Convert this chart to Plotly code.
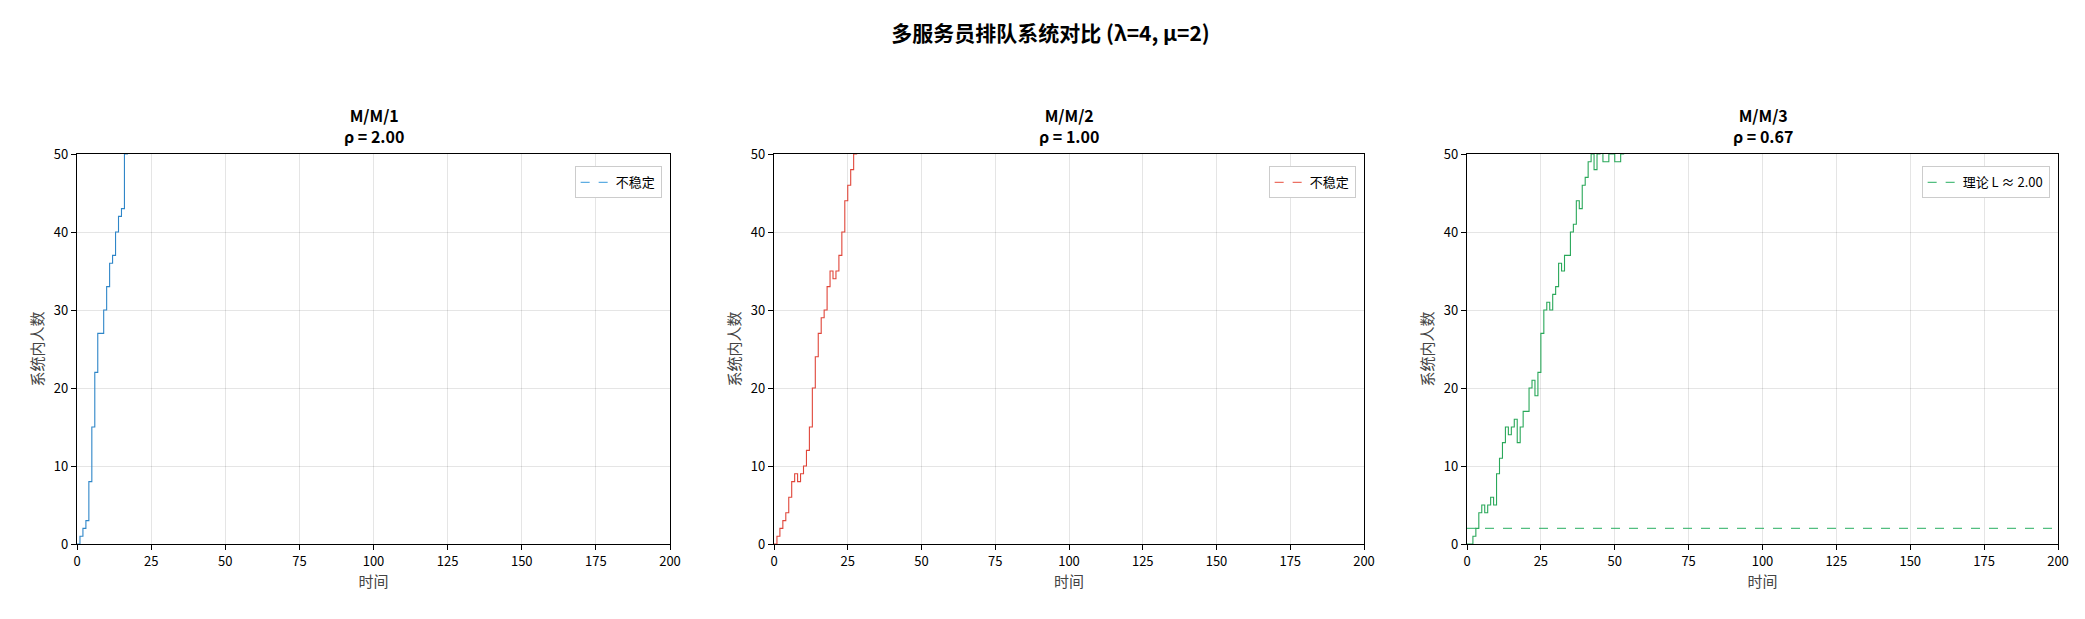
import plotly.graph_objects as go
from plotly.subplots import make_subplots

# ---- data ----
t1 = [0, 1, 2, 3, 4, 5, 6, 7, 8, 9, 10, 11, 12, 13, 14, 15, 16, 17]
n1 = [0, 1, 2, 3, 8, 15, 22, 27, 27, 30, 33, 36, 37, 40, 42, 43, 50, 52]

t2 = list(range(0, 30))
n2 = [0, 1, 2, 3, 4, 6, 8, 9, 8, 9, 10, 12, 15, 20, 24, 27, 29, 30, 33, 35,
      34, 35, 37, 40, 44, 46, 48, 50, 51, 52]

t3 = [0, 2, 3, 4, 5, 6, 7, 8, 9, 10, 11, 12, 13, 14, 15, 16, 17, 18, 19, 20,
      21, 22, 23, 24, 25, 26, 27, 28, 29, 30, 31, 32, 33, 34, 35, 36, 37, 38,
      39, 40, 41, 42, 43, 44, 45, 46, 48, 50, 52, 53]
n3 = [0, 1, 2, 4, 5, 4, 5, 6, 5, 9, 11, 13, 15, 14, 15, 16, 13, 15, 17, 17,
      20, 21, 19, 22, 27, 30, 31, 30, 32, 33, 36, 35, 37, 37, 40, 41, 44, 43,
      46, 47, 49, 50, 48, 50, 51, 49, 50, 49, 50, 51]

theory_L3 = 2.00
rhos = [2.00, 1.00, 0.67]
names = ["M/M/1", "M/M/2", "M/M/3"]
colors = ["#2f86c8", "#e0463a", "#2aa85a"]
legend_colors = ["rgba(52,152,219,0.8)", "rgba(231,76,60,0.8)", "rgba(39,174,96,0.8)"]

FONT = "Noto Sans CJK SC"
W, H = 2085, 619

fig = make_subplots(rows=1, cols=3)
doms = [[69 / W, 662 / W], [766 / W, 1356 / W], [1459 / W, 2050 / W]]
ydom = [1 - 536 / H, 1 - 146 / H]

series = [(t1, n1), (t2, n2), (t3, n3)]
for i, (t, n) in enumerate(series):
    c = i + 1
    lg = "legend" if c == 1 else f"legend{c}"
    fig.add_trace(go.Scatter(x=t, y=n, mode="lines", line=dict(color=colors[i], width=1.1, shape="hv"),
                             showlegend=False), row=1, col=c)
    if c < 3:
        fig.add_trace(go.Scatter(x=[None], y=[None], mode="lines", name="不稳定",
                                 line=dict(color=legend_colors[i], width=1.3, dash="dash"),
                                 legend=lg), row=1, col=c)
    else:
        fig.add_trace(go.Scatter(x=[0, 200], y=[theory_L3, theory_L3], mode="lines",
                                 name=f"理论 L ≈ {theory_L3:.2f}",
                                 line=dict(color=legend_colors[i], width=1.3, dash="dash"),
                                 legend=lg), row=1, col=c)

axis_common = dict(showline=True, linecolor="black", linewidth=1.3, mirror=True, ticks="outside",
                   ticklen=5, tickcolor="black", showgrid=True, gridcolor="rgba(0,0,0,0.1)",
                   zeroline=False, tickfont=dict(size=13, color="black", family=FONT))
for c in range(1, 4):
    sx = "" if c == 1 else str(c)
    fig.layout["xaxis" + sx].update(domain=doms[c - 1], range=[0, 200], dtick=25,
                                     title=dict(text="时间", font=dict(size=15, family=FONT), standoff=4),
                                     **axis_common)
    fig.layout["yaxis" + sx].update(domain=ydom, range=[0, 50], dtick=10,
                                     title=dict(text="系统内人数", font=dict(size=15, family=FONT), standoff=6),
                                     **axis_common)
    mid = (doms[c - 1][0] + doms[c - 1][1]) / 2
    fig.add_annotation(text=f"<b>{names[c - 1]}<br>ρ = {rhos[c - 1]:.2f}</b>", x=mid, y=ydom[1],
                       xref="paper", yref="paper", xanchor="center", yanchor="bottom", yshift=4,
                       showarrow=False, font=dict(size=16, family=FONT, color="black"))
    legend_box = dict(x=doms[c - 1][1] - 0.004, y=ydom[1] - 0.02, xanchor="right", yanchor="top",
                      bgcolor="white", bordercolor="#cccccc", borderwidth=1,
                      font=dict(size=13, family=FONT, color="black"))
    fig.layout["legend" if c == 1 else f"legend{c}"] = legend_box

fig.update_layout(
    width=W, height=H, template="none", plot_bgcolor="white", paper_bgcolor="white",
    margin=dict(l=0, r=0, t=0, b=0), font=dict(family=FONT),
    title=dict(text="<b>多服务员排队系统对比 (λ=4, μ=2)</b>", x=0.5, xanchor="center", y=0.97, yanchor="top",
               font=dict(size=21, family=FONT, color="black")),
)

fig.write_html("out.html")
